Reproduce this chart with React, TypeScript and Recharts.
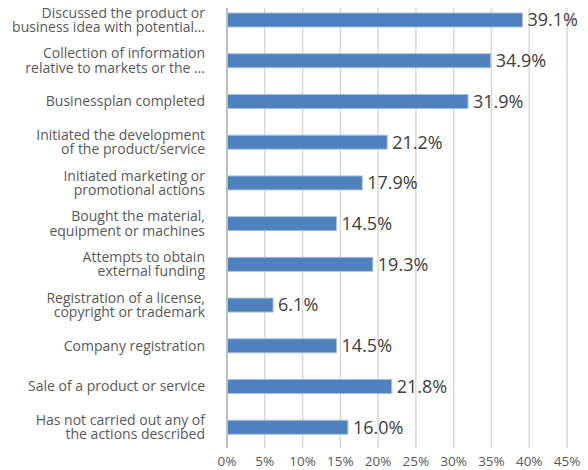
import React from "react";
import { BarChart, Bar, XAxis, YAxis, CartesianGrid, LabelList } from "recharts";

const categories: string[] = [
  "Discussed the product or\nbusiness idea with potential…",
  "Collection of information\nrelative to markets or the …",
  "Businessplan completed",
  "Initiated the development\nof the product/service",
  "Initiated marketing or\npromotional actions",
  "Bought the material,\nequipment or machines",
  "Attempts to obtain\nexternal funding",
  "Registration of a license,\ncopyright or trademark",
  "Company registration",
  "Sale of a product or service",
  "Has not carried out any of\nthe actions described",
];

const values: number[] = [39.1, 34.9, 31.9, 21.2, 17.9, 14.5, 19.3, 6.1, 14.5, 21.8, 16.0];

const xTicks: number[] = [0, 5, 10, 15, 20, 25, 30, 35, 40, 45];

const data = categories.map((c, i) => ({ name: c, value: values[i] }));

const FONT = "'Open Sans', 'Noto Sans', sans-serif";

const CategoryTick = (props: any) => {
  const { x, y, payload } = props;
  const lines: string[] = String(payload.value).split("\n");
  const lh = 14.5;
  const startDy = -((lines.length - 1) * lh) / 2;
  return (
    <text
      x={x - 14}
      y={y}
      textAnchor="end"
      fill="#595959"
      fontSize={14}
      fontFamily={FONT}
    >
      {lines.map((l, i) => (
        <tspan key={i} x={x - 14} dy={i === 0 ? startDy + 4.5 : lh}>
          {l}
        </tspan>
      ))}
    </text>
  );
};

export default function App() {
  return (
    <div style={{ width: 580, height: 470, marginTop: -8 }}>
      <BarChart
        width={580}
        height={470}
        data={data}
        layout="vertical"
        margin={{ top: 0, right: 21, left: 0, bottom: 0 }}
        barCategoryGap={0}
      >
        <CartesianGrid horizontal={false} stroke="#D9D9D9" strokeWidth={1.5} />
        <XAxis
          type="number"
          domain={[0, 45]}
          ticks={xTicks}
          tickFormatter={(v: number) => `${v}%`}
          axisLine={false}
          tickLine={false}
          height={22}
          tickMargin={2}
          interval={0}
          tick={{ fill: "#595959", fontSize: 13.5, fontFamily: FONT }}
        />
        <YAxis
          type="category"
          dataKey="name"
          width={219}
          axisLine={{ stroke: "#BFBFBF", strokeWidth: 2 }}
          tickLine={false}
          interval={0}
          tick={<CategoryTick />}
        />
        <Bar
          dataKey="value"
          fill="#4F81BD"
          stroke="#A7BFDE"
          strokeWidth={1}
          barSize={14}
          isAnimationActive={false}
        >
          <LabelList
            dataKey="value"
            position="right"
            offset={5}
            formatter={(v: number) => `${v.toFixed(1)}%`}
            fill="#404040"
            fontSize={18}
            fontFamily={FONT}
          />
        </Bar>
      </BarChart>
    </div>
  );
}
